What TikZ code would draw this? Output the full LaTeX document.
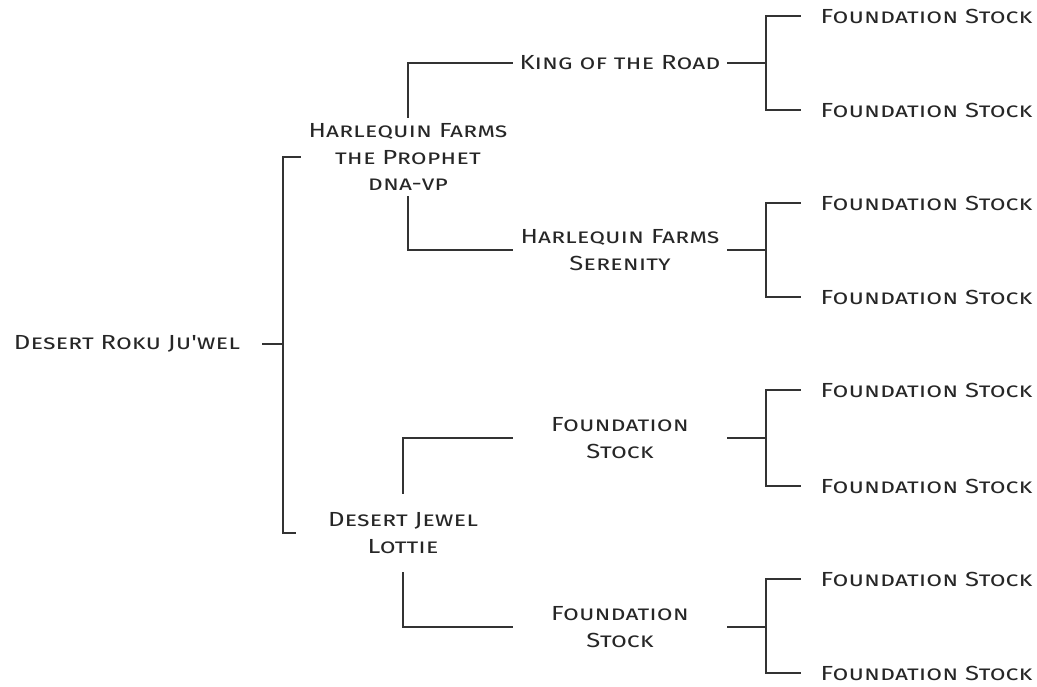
\documentclass[tikz,border=0pt]{standalone}
\usepackage{fontspec}
\newfontfamily\pedfont[Letters=SmallCaps,FakeStretch=1.26]{Fira Sans}
\begin{document}
\begin{tikzpicture}[x=0.025cm,y=-0.025cm,
  horse/.style={font=\pedfont\fontsize{14.5}{19}\selectfont,align=center,inner sep=0pt,text=black!85},
  gen1/.style={horse,minimum width=6.75cm},
  gen2/.style={horse,minimum width=5.35cm,minimum height=1.95cm},
  gen3/.style={horse,minimum width=5.35cm},
  gen4/.style={horse,minimum width=6.275cm},
  link/.style={line width=1.3pt,draw=black!80}]
\useasboundingbox (0,0) rectangle (1037,686);
% horses
\node[gen1] (roku) at (127,344) {Desert Roku Ju'wel};
\node[gen2] (prophet) at (408,157) {Harlequin Farms\\the Prophet\\dna-vp};
\node[gen2] (lottie) at (403,533) {Desert Jewel\\Lottie};
\node[gen3] (king) at (620,63) {King of the Road};
\node[gen3] (serenity) at (620,250) {Harlequin Farms\\Serenity};
\node[gen3] (stockA) at (620,438) {Foundation\\Stock};
\node[gen3] (stockB) at (620,627) {Foundation\\Stock};
\node[gen4] (l1) at (926.5,16) {Foundation Stock};
\node[gen4] (l2) at (926.5,110) {Foundation Stock};
\node[gen4] (l3) at (926.5,203) {Foundation Stock};
\node[gen4] (l4) at (926.5,297) {Foundation Stock};
\node[gen4] (l5) at (926.5,390) {Foundation Stock};
\node[gen4] (l6) at (926.5,486) {Foundation Stock};
\node[gen4] (l7) at (926.5,579) {Foundation Stock};
\node[gen4] (l8) at (926.5,673) {Foundation Stock};
% forks
\coordinate (f0) at (283,344);
\coordinate (f1) at (766,63);
\coordinate (f2) at (766,250);
\coordinate (f3) at (766,438);
\coordinate (f4) at (766,627);
% lines
\draw[link] (roku.east) -- (f0) |- (prophet.west);
\draw[link] (f0) |- (lottie.west);
\draw[link] (prophet.north) |- (king.west);
\draw[link] (prophet.south) |- (serenity.west);
\draw[link] (lottie.north) |- (stockA.west);
\draw[link] (lottie.south) |- (stockB.west);
\draw[link] (king.east) -- (f1) |- (l1.west);
\draw[link] (f1) |- (l2.west);
\draw[link] (serenity.east) -- (f2) |- (l3.west);
\draw[link] (f2) |- (l4.west);
\draw[link] (stockA.east) -- (f3) |- (l5.west);
\draw[link] (f3) |- (l6.west);
\draw[link] (stockB.east) -- (f4) |- (l7.west);
\draw[link] (f4) |- (l8.west);
\end{tikzpicture}
\end{document}
